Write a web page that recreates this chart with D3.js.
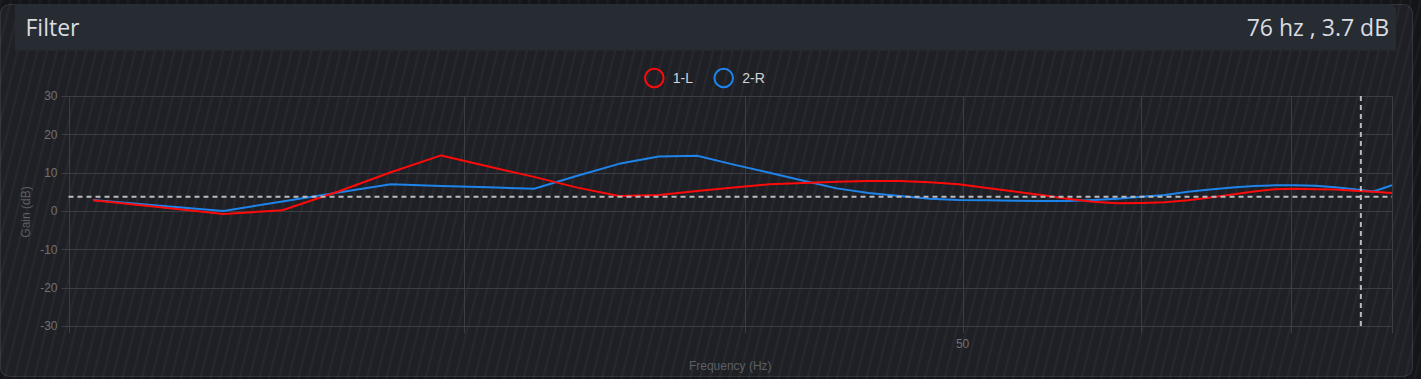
<!DOCTYPE html>
<html>
<head>
<meta charset="utf-8">
<script src="https://cdn.jsdelivr.net/npm/d3@7"></script>
<style>
  html, body { margin: 0; padding: 0; background: #141518; overflow: hidden; }
  svg { display: block; }
</style>
</head>
<body>
<svg id="chart" width="1421" height="379"></svg>
<script>
// ---- data ----
const title = "Filter";
const cursorLabel = "76 hz , 3.7 dB";
const cursorFreq = 75.2;
const cursorGain = 3.7;
const frequencies = [20.51, 21.97, 23.44, 24.90, 26.37, 27.83, 29.30, 30.76, 32.23, 33.69,
  35.16, 36.62, 38.09, 39.55, 41.02, 42.48, 43.95, 45.41, 46.88, 48.34,
  49.80, 51.27, 52.73, 54.20, 55.66, 57.13, 58.59, 60.06, 61.52, 62.99,
  64.45, 65.92, 67.38, 68.85, 70.31, 71.78, 73.24, 74.71, 76.17, 77.64];
const seriesNames = ["1-L", "2-R"];
const gainL = [2.8, 1.0, -0.8, 0.2, 5.1, 10.1, 14.5, 11.6, 8.9, 6.1,
  3.9, 4.2, 5.2, 6.1, 7.0, 7.3, 7.6, 7.8, 7.8, 7.5,
  7.0, 6.0, 5.1, 4.2, 3.2, 2.4, 2.0, 2.1, 2.3, 2.8,
  3.5, 4.3, 5.1, 5.7, 5.8, 5.7, 5.6, 5.3, 5.0, 4.7];
const gainR = [2.9, 1.4, 0.0, 2.5, 4.8, 7.0, 6.5, 6.2, 5.8, 9.2,
  12.3, 14.2, 14.4, 12.1, 10.0, 7.9, 5.9, 4.7, 3.9, 3.2,
  2.9, 2.8, 2.7, 2.6, 2.6, 2.9, 3.2, 3.7, 4.2, 5.0,
  5.6, 6.1, 6.5, 6.7, 6.7, 6.6, 6.2, 5.7, 5.1, 6.7];
const yTicks = [30, 20, 10, 0, -10, -20, -30];
const xGridTicks = [30, 40, 50, 60, 70];
const xLabelTicks = [50];
const xDomain = [20, 77.64];
const yDomain = [-30, 30];
const seriesColors = ["#ff0a0a", "#1f84ea"];

// ---- layout ----
const svg = d3.select("#chart");
const W = 1421, H = 379;
const plot = { left: 68.5, right: 1392, top: 96, bottom: 326 };
const font = "'Liberation Sans', Arial, Helvetica, sans-serif";
const headFont = "'Open Sans', 'Noto Sans', sans-serif";

const defs = svg.append("defs");
const pat = defs.append("pattern")
  .attr("id", "hatch").attr("patternUnits", "userSpaceOnUse")
  .attr("width", 9.5).attr("height", 40)
  .attr("patternTransform", "rotate(14)");
pat.append("rect").attr("width", 9.5).attr("height", 40).attr("fill", "transparent");
pat.append("rect").attr("x", 0).attr("y", 0).attr("width", 2.2).attr("height", 40)
  .attr("fill", "#ffffff").attr("opacity", 0.035);

// page background
svg.append("rect").attr("width", W).attr("height", H).attr("fill", "#141518");
// card
svg.append("rect").attr("x", 0.5).attr("y", 4.5).attr("width", 1412).attr("height", 372)
  .attr("rx", 9).attr("fill", "#1e2025").attr("stroke", "#30343a").attr("stroke-width", 1.2);
// hatch overlay
svg.append("rect").attr("width", W).attr("height", H).attr("fill", "url(#hatch)");

// header
svg.append("path")
  .attr("d", `M15,4 H1388 Q1396,4 1396,12 V50.5 H15 Z`)
  .attr("fill", "#272c33");
svg.append("text").attr("x", 25.5).attr("y", 35.5)
  .attr("font-family", headFont).attr("font-size", 23)
  .attr("fill", "#d9dce0").text(title);
svg.append("text").attr("x", 1389).attr("y", 35.5).attr("text-anchor", "end")
  .attr("font-family", headFont).attr("font-size", 23)
  .attr("fill", "#d9dce0").text(cursorLabel);

// scales
const x = d3.scaleLog().domain(xDomain).range([plot.left, plot.right]);
const y = d3.scaleLinear().domain(yDomain).range([plot.bottom, plot.top]);

const gridColor = "#3b3d42";
const g = svg.append("g");

// horizontal gridlines + ticks
g.selectAll("line.hg").data(yTicks).join("line")
  .attr("x1", plot.left - 7).attr("x2", plot.right)
  .attr("y1", d => Math.round(y(d)) + 0.5).attr("y2", d => Math.round(y(d)) + 0.5)
  .attr("stroke", gridColor).attr("stroke-width", 1);
// vertical gridlines incl. borders
const vLines = [xDomain[0], ...xGridTicks, xDomain[1]];
g.selectAll("line.vg").data(vLines).join("line")
  .attr("x1", d => Math.round(x(d)) + 0.5).attr("x2", d => Math.round(x(d)) + 0.5)
  .attr("y1", plot.top).attr("y2", plot.bottom + 7)
  .attr("stroke", gridColor).attr("stroke-width", 1);

// y tick labels
g.selectAll("text.yl").data(yTicks).join("text")
  .attr("x", plot.left - 11).attr("y", d => y(d) + 4.2)
  .attr("text-anchor", "end").attr("font-family", font).attr("font-size", 12)
  .attr("fill", "#6e7176").text(d => d);
// x tick labels
g.selectAll("text.xl").data(xLabelTicks).join("text")
  .attr("x", d => x(d)).attr("y", plot.bottom + 21.5)
  .attr("text-anchor", "middle").attr("font-family", font).attr("font-size", 12)
  .attr("fill", "#6e7176").text(d => d);

// axis titles
svg.append("text").attr("transform", `translate(30,${(plot.top + plot.bottom) / 2 + 1}) rotate(-90)`)
  .attr("text-anchor", "middle").attr("font-family", font).attr("font-size", 12)
  .attr("fill", "#5c5f64").text("Gain (dB)");
svg.append("text").attr("x", (plot.left + plot.right) / 2).attr("y", 369.5)
  .attr("text-anchor", "middle").attr("font-family", font).attr("font-size", 12)
  .attr("fill", "#5c5f64").text("Frequency (Hz)");

// series lines (blue first so red is drawn on top)
const line = d3.line().x(d => x(d[0])).y(d => y(d[1])).curve(d3.curveLinear);
const series = [gainL, gainR];
[1, 0].forEach(i => {
  svg.append("path")
    .datum(frequencies.map((f, j) => [f, series[i][j]]))
    .attr("d", line).attr("fill", "none")
    .attr("stroke", seriesColors[i]).attr("stroke-width", 2)
    .attr("stroke-linejoin", "round");
});

// crosshair
svg.append("line")
  .attr("x1", plot.left).attr("x2", plot.right)
  .attr("y1", y(cursorGain)).attr("y2", y(cursorGain))
  .attr("stroke", "#b9bbbe").attr("stroke-width", 2).attr("stroke-dasharray", "5,4");
svg.append("line")
  .attr("x1", x(cursorFreq)).attr("x2", x(cursorFreq))
  .attr("y1", plot.top).attr("y2", plot.bottom)
  .attr("stroke", "#b9bbbe").attr("stroke-width", 2).attr("stroke-dasharray", "5,4");

// legend
const legendX = [654.3, 723.7];
const lg = svg.append("g");
seriesNames.forEach((name, i) => {
  lg.append("circle").attr("cx", legendX[i]).attr("cy", 78).attr("r", 9.3)
    .attr("fill", "none").attr("stroke", seriesColors[i]).attr("stroke-width", 2);
  lg.append("text").attr("x", legendX[i] + 18.5).attr("y", 83)
    .attr("font-family", font).attr("font-size", 14)
    .attr("fill", "#d2d4d7").text(name);
});
</script>
</body>
</html>
